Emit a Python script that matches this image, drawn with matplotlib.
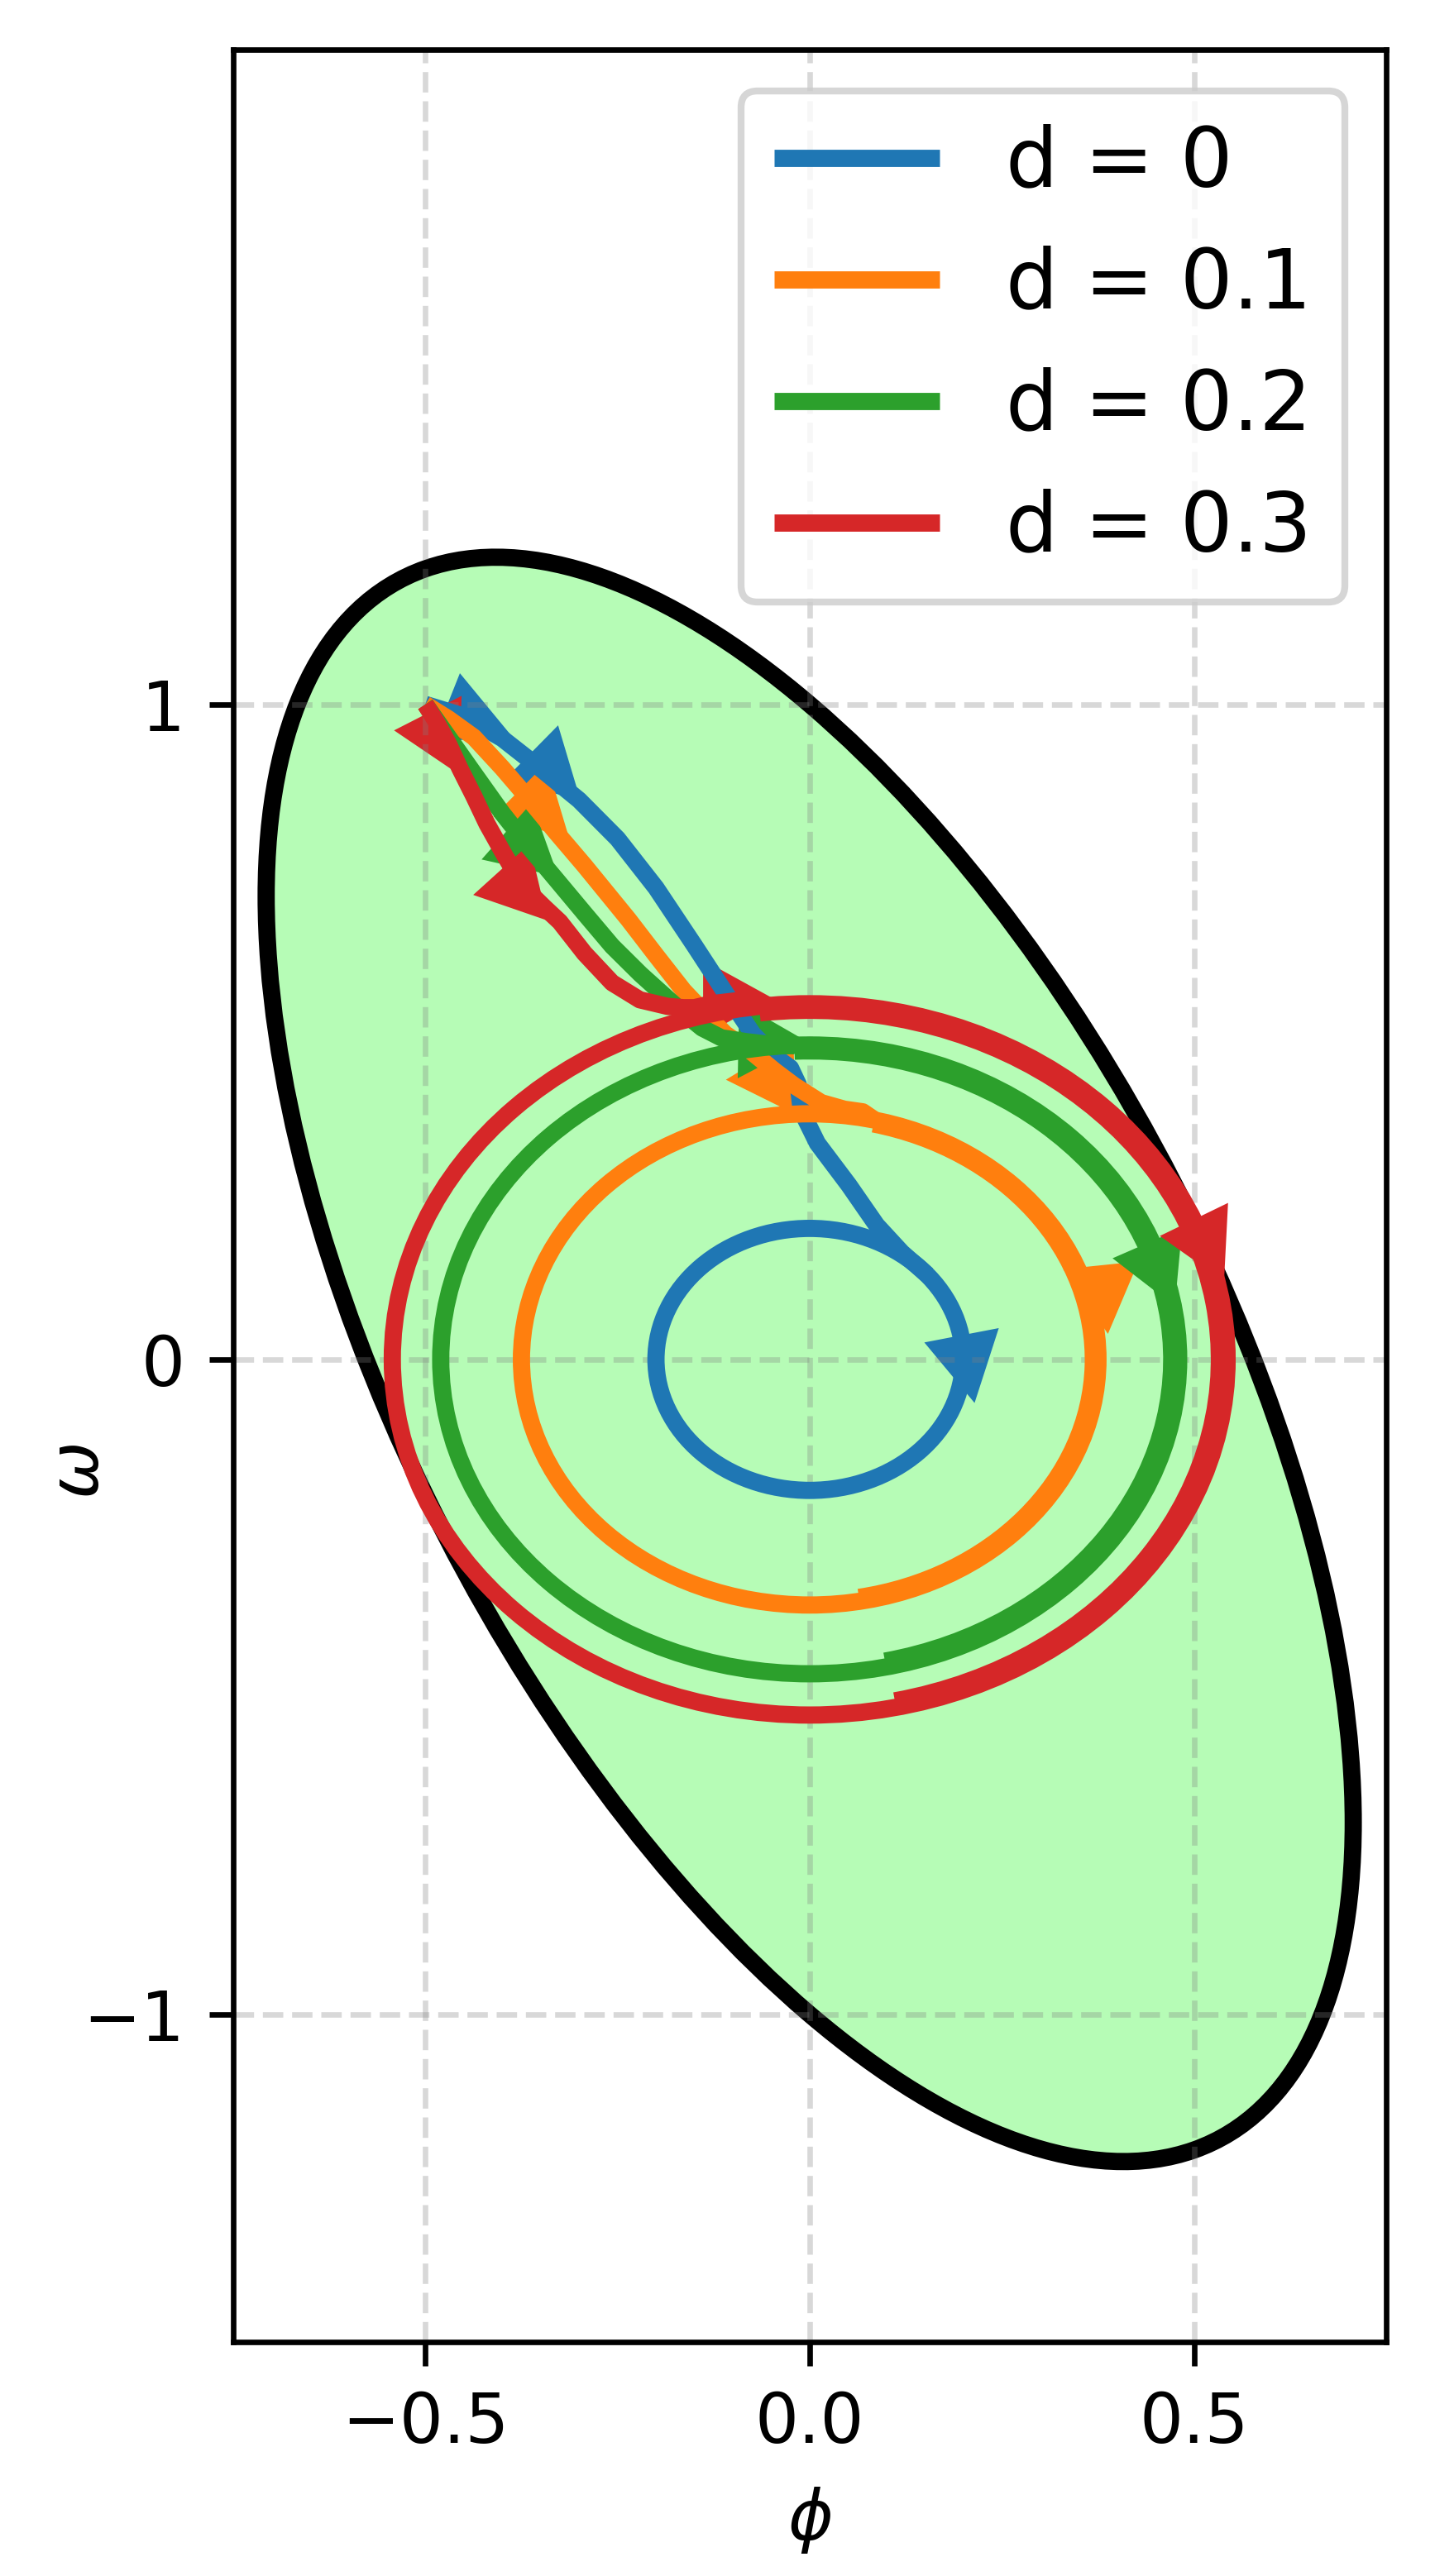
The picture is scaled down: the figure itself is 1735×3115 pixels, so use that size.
import numpy as np
import matplotlib
matplotlib.use("Agg")
import matplotlib.pyplot as plt
from matplotlib.patches import Ellipse, Circle, Arc, FancyArrowPatch
from matplotlib.colors import to_rgba

# ---------------- data ----------------
labels = ["d = 0", "d = 0.1", "d = 0.2", "d = 0.3"]
colors = ["#1f77b4", "#ff7f0e", "#2ca02c", "#d62728"]

# invariant region  x^T P x <= 1
region_P = [[3.0, 1.0], [1.0, 1.0]]

# transient parts of the trajectories (phi, omega)
phi_d0 = [-0.50, -0.45, -0.40, -0.35, -0.30, -0.25, -0.20, -0.15, -0.11, -0.074,
          -0.045, -0.025, -0.015, -0.011, 0.010, 0.051, 0.087, 0.120, 0.153]
omega_d0 = [1.00, 0.982, 0.948, 0.902, 0.854, 0.795, 0.720, 0.632, 0.560, 0.497,
            0.462, 0.445, 0.420, 0.380, 0.330, 0.266, 0.205, 0.163, 0.129]

phi_d1 = [-0.50, -0.47, -0.437, -0.40, -0.365, -0.33, -0.293, -0.236, -0.20, -0.164,
          -0.135, -0.110, -0.074, -0.045, -0.020, 0.015, 0.045, 0.069, 0.084]
omega_d1 = [1.00, 0.978, 0.950, 0.903, 0.855, 0.805, 0.754, 0.672, 0.617, 0.563,
            0.527, 0.497, 0.468, 0.440, 0.418, 0.392, 0.382, 0.378, 0.366]

phi_d2 = [-0.50, -0.47, -0.44, -0.40, -0.365, -0.33, -0.293, -0.257, -0.22, -0.185,
          -0.164, -0.140, -0.115, -0.082, -0.045, -0.020]
omega_d2 = [1.00, 0.950, 0.900, 0.834, 0.782, 0.733, 0.681, 0.631, 0.588, 0.551,
            0.529, 0.506, 0.491, 0.485, 0.480, 0.479]

phi_d3 = [-0.50, -0.485, -0.47, -0.455, -0.437, -0.42, -0.40, -0.383, -0.365, -0.345,
          -0.325, -0.293, -0.257, -0.221, -0.185, -0.164, -0.150, -0.128, -0.092, -0.066]
omega_d3 = [1.00, 0.972, 0.940, 0.902, 0.860, 0.818, 0.776, 0.742, 0.713, 0.690,
            0.668, 0.620, 0.575, 0.549, 0.539, 0.537, 0.537, 0.543, 0.548, 0.541]

transients_phi = [phi_d0, phi_d1, phi_d2, phi_d3]
transients_omega = [omega_d0, omega_d1, omega_d2, omega_d3]

# limit cycles reached by the trajectories
cycle_radius = [0.20, 0.375, 0.48, 0.543]
cycle_entry_deg = [40.0, 77.0, 92.4, 97.0]
overlap_radius = [None, 0.369, 0.471, 0.533]
overlap_end_deg = [None, -80.0, -78.0, -78.0]

# arrow heads: base point and tip point (phi, omega)
arrow_base_phi = [[-0.465, -0.356, 0.199],
                  [-0.365, -0.049, 0.380],
                  [-0.382, -0.090, 0.442],
                  [-0.483, -0.395, -0.098, 0.508]]
arrow_base_omega = [[0.990, 0.920, 0.028],
                    [0.856, 0.430, 0.130],
                    [0.794, 0.487, 0.170],
                    [0.955, 0.740, 0.552, 0.194]]
arrow_tip_phi = [[-0.390, -0.298, 0.2145],
                 [-0.313, -0.109, 0.388],
                 [-0.327, -0.003, 0.475],
                 [-0.456, -0.341, -0.049, 0.539]]
arrow_tip_omega = [[0.955, 0.853, -0.0665],
                   [0.796, 0.427, 0.039],
                   [0.737, 0.485, 0.081],
                   [0.893, 0.670, 0.552, 0.119]]

xticks = [-0.5, 0.0, 0.5]
yticks = [-1, 0, 1]

# ---------------- figure ----------------
fig = plt.figure(figsize=(1735 / 600, 3115 / 600), dpi=600)
ax = fig.add_axes([0.1625, 0.0909, 0.8035, 0.8899])

# region ellipse from matrix P
Pm = np.array(region_P)
evals, evecs = np.linalg.eigh(Pm)
semi = 1.0 / np.sqrt(evals)
ang = np.degrees(np.arctan2(evecs[1, 0], evecs[0, 0]))
ell = Ellipse((0, 0), width=2 * semi[0], height=2 * semi[1], angle=ang,
              facecolor=to_rgba("palegreen", 0.7), edgecolor="black", lw=2.5, zorder=0.9)
ax.add_patch(ell)

lw = 2.5
for i in range(4):
    c = colors[i]
    ax.plot(transients_phi[i], transients_omega[i], color=c, lw=lw, label=labels[i],
            zorder=2 + 0.01 * i, solid_capstyle="butt", solid_joinstyle="round")
    ax.add_patch(Circle((0, 0), cycle_radius[i], fill=False, edgecolor=c, lw=lw,
                        zorder=2 + 0.01 * i))
    if overlap_radius[i] is not None:
        r2 = overlap_radius[i]
        ax.add_patch(Arc((0, 0), 2 * r2, 2 * r2, theta1=overlap_end_deg[i],
                         theta2=cycle_entry_deg[i], color=c, lw=lw, zorder=2 + 0.01 * i))
    for bx, by, tx, ty in zip(arrow_base_phi[i], arrow_base_omega[i],
                              arrow_tip_phi[i], arrow_tip_omega[i]):
        ax.add_patch(FancyArrowPatch((bx, by), (tx, ty),
                                     arrowstyle="-|>,head_length=1.0,head_width=0.55",
                                     mutation_scale=10, color=c, lw=0,
                                     shrinkA=0, shrinkB=0, zorder=1))

ax.set_xlim(-0.75, 0.75)
ax.set_ylim(-1.5, 2.0)
ax.set_xticks(xticks)
ax.set_yticks(yticks)
ax.tick_params(labelsize=10)
ax.grid(True, ls="--", color="gray", alpha=0.3)
ax.set_xlabel(r"$\phi$", fontsize=10)
ax.set_ylabel(r"$\omega$", fontsize=10)
ax.yaxis.set_label_coords(-0.105, 0.38)
ax.legend(loc="upper right", fontsize=12)

fig.savefig("out.png", dpi=600)
